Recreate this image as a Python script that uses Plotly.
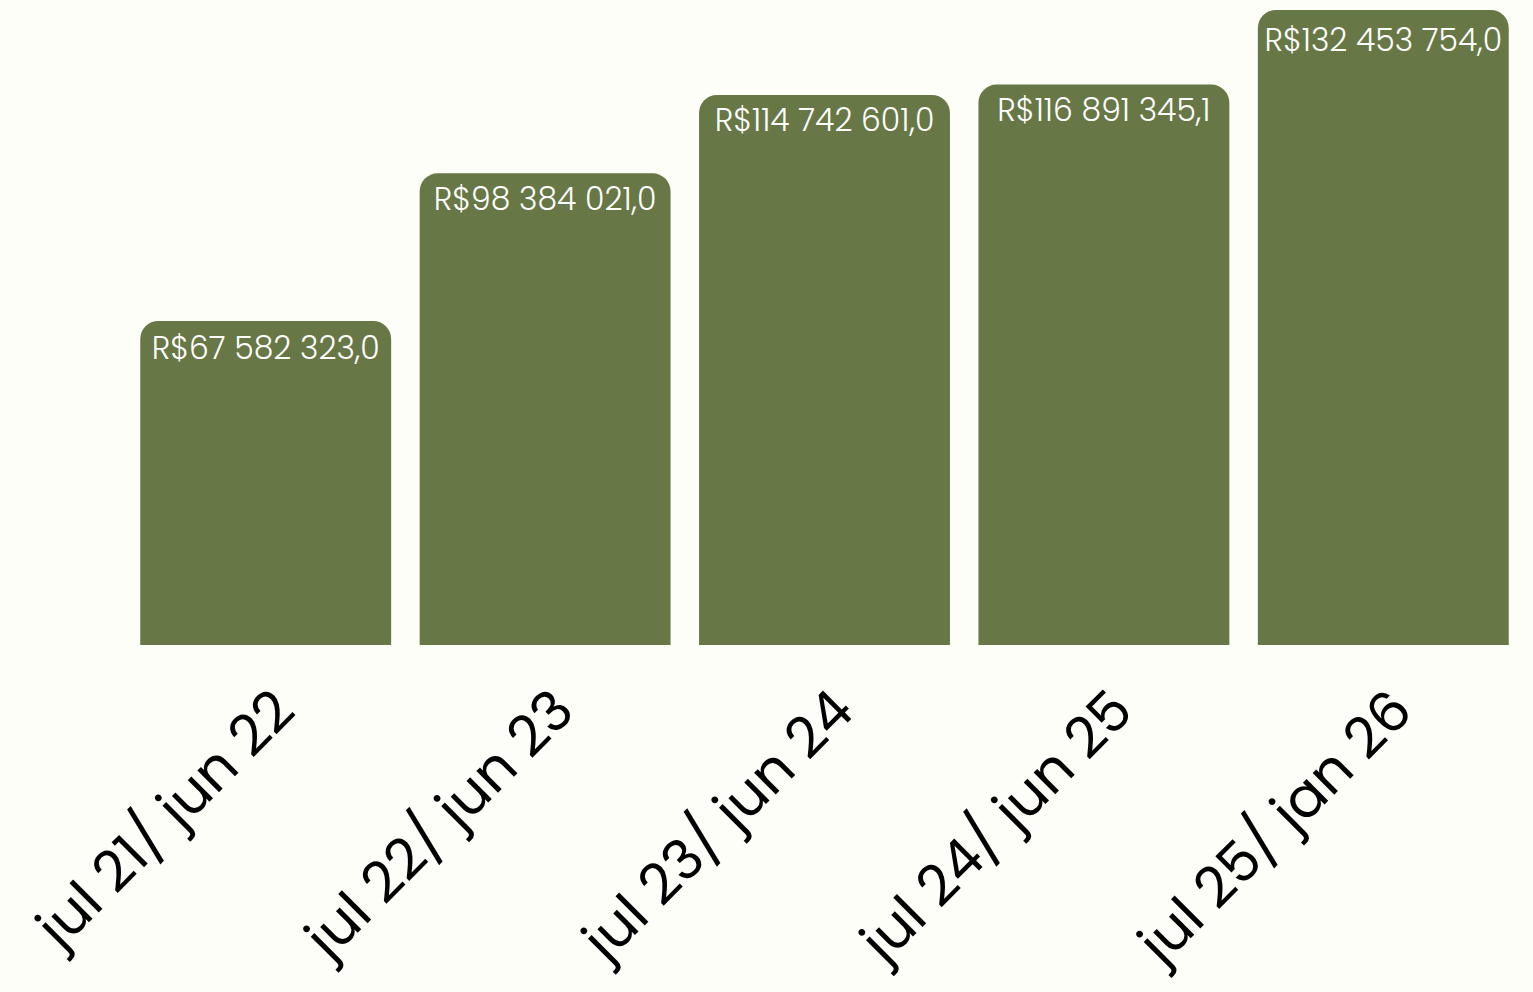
import plotly.graph_objects as go

categories = ["jul 21/ jun 22", "jul 22/ jun 23", "jul 23/ jun 24", "jul 24/ jun 25", "jul 25/ jan 26"]
values = [67582323.0, 98384021.0, 114742601.0, 116891345.1, 132453754.0]
labels = ["R$67 582 323,0", "R$98 384 021,0", "R$114 742 601,0", "R$116 891 345,1", "R$132 453 754,0"]

FONT = "Poppins, Inter, sans-serif"

fig = go.Figure(go.Bar(
    x=categories, y=values, text=labels,
    textposition="inside", insidetextanchor="end", textangle=0,
    textfont=dict(family=FONT, size=31.5, color="#ffffff", weight=300),
    marker=dict(color="#677745", cornerradius=18, line=dict(width=0)),
    hoverinfo="skip",
))
fig.update_layout(
    width=1533, height=992,
    margin=dict(l=126, r=10, t=10, b=347, autoexpand=False),
    paper_bgcolor="#fdfef8", plot_bgcolor="#fdfef8",
    bargap=0.102, showlegend=False,
    xaxis=dict(tickangle=-45, tickfont=dict(family=FONT, size=56, color="#000000", weight=400),
               ticklabelstandoff=20, ticklabelshift=12,
               showgrid=False, zeroline=False, showline=False, ticks=""),
    yaxis=dict(visible=False, range=[0, 132453754], showgrid=False, zeroline=False),
    uniformtext=dict(minsize=31.5, mode="show"),
)
fig.write_html("out.html", config={"displayModeBar": False},
               post_script="document.body.style.margin='0';document.body.style.background='#fdfef8';")
